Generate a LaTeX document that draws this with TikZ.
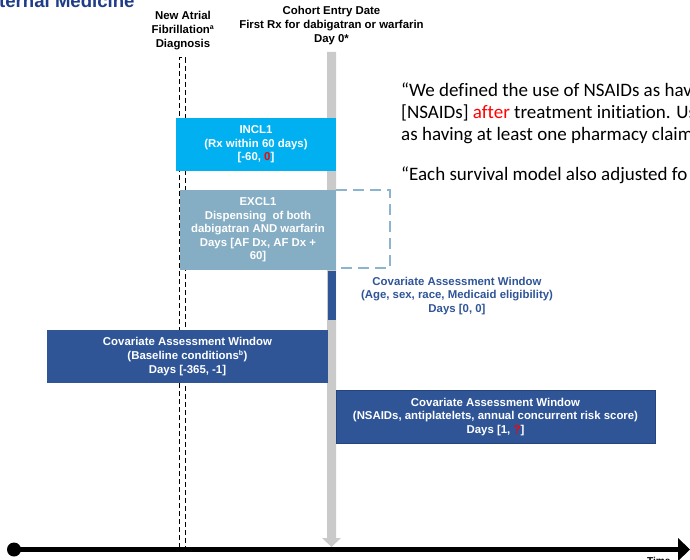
\documentclass[tikz,border=0pt]{standalone}
\usepackage{fontspec}
\setmainfont{Liberation Sans}
\newfontfamily\quotefont[Ligatures=NoCommon]{Carlito}
\usetikzlibrary{positioning}

\definecolor{titleblue}{HTML}{1F3C88}
\definecolor{inclcyan}{HTML}{00B0F0}
\definecolor{exclgray}{HTML}{85ADC4}
\definecolor{dashblue}{HTML}{8DB4CE}
\definecolor{covblue}{HTML}{2F5597}
\definecolor{covedge}{HTML}{24447D}
\definecolor{daybar}{HTML}{CACACA}

\tikzset{
  lbl/.style={font=\fontsize{11.4}{13.6}\selectfont\bfseries, align=center, inner sep=0pt},
  winbox/.style={lbl, text=white, inner sep=0pt, outer sep=0pt},
  quoteline/.style={font=\quotefont\fontsize{19}{22}\selectfont, anchor=base west, inner sep=0pt},
}

\begin{document}
\begin{tikzpicture}[x=1pt,y=-1pt]
\useasboundingbox (0,0) rectangle (690,559);
\clip (0,0) rectangle (690,559);

% journal banner, cut off at the top edge
\node[font=\fontsize{18.6}{22}\selectfont\bfseries, text=titleblue, anchor=base west, inner sep=0pt]
  (banner) at (-1,8) {ternal Medicine};

% column headings
\node[lbl] (afhead) at (183,30.5) {New Atrial\\Fibrillation\textsuperscript{\fontsize{7}{7}\selectfont a}\\Diagnosis};
\node[lbl] (cohorthead) at (331.5,25.5) {Cohort Entry Date\\First Rx for dabigatran or warfarin\\Day 0*};

% day-0 marker: grey block arrow down to the time line
\fill[daybar] (327,52) -- (336,52) -- (336,538) -- (341,538) -- (331.5,547)
  -- (322,538) -- (327,538) -- cycle;

% AF diagnosis marker: narrow dashed frame
\draw[black, line width=1pt, dash pattern=on 5pt off 3pt] (179,548) -- (179,58) -- (185,58) -- (185,548);

% inclusion / exclusion windows
\node[winbox, fill=inclcyan, minimum width=160pt, minimum height=53pt] (incl) at (256,144.5)
  {INCL1\\(Rx within 60 days)\\{[}-60, \textcolor{red}{0}]};
\node[winbox, fill=exclgray, minimum width=156pt, minimum height=80pt] (excl) at (258,230)
  {EXCL1\\Dispensing\ \ of both\\dabigatran AND warfarin\\Days [AF Dx, AF Dx +\\60]};
\draw[dashblue, line width=2.6pt, dash pattern=on 11pt off 6pt]
  (excl.north east) -- (390,190) -- (390,268) -- (excl.south east |- 0,268);

% covariate windows
\fill[covblue] (328,271) rectangle (336,320);
\node[lbl, text=covblue] (covday0) at (457,296)
  {Covariate Assessment Window\\(Age, sex, race, Medicaid eligibility)\\Days [0, 0]};
\node[winbox, fill=covblue, minimum width=281pt, minimum height=53pt] (covbase) at (187.5,356.5)
  {Covariate Assessment Window\\(Baseline conditions\textsuperscript{\fontsize{7}{7}\selectfont b})\\Days [-365, -1]};
\node[winbox, fill=covblue, draw=covedge, line width=0.8pt, minimum width=319pt, minimum height=53pt] (covfollow) at (495.5,417)
  {Covariate Assessment Window\\(NSAIDs, antiplatelets, annual concurrent risk score)\\Days [1, \textcolor{red}{?}]};

% quoted methods text
\node[quoteline] (q1) at (401,96.7) {“We defined the use of NSAIDs as hav};
\node[quoteline] (q2) at (401,118.4) {[NSAIDs] \textcolor{red}{after} treatment initiation. Us};
\node[quoteline] (q3) at (401,140) {as having at least one pharmacy claim};
\node[quoteline] (q4) at (401,180.5) {“Each survival model also adjusted fo};

% time line
\coordinate (tstart) at (14,549.5);
\coordinate (tend) at (678,549.5);
\draw[line width=5pt] (tstart) -- (tend);
\fill (tstart) circle (7pt);
\fill (678,538) -- (690,549.5) -- (678,561) -- cycle;
\node[font=\fontsize{10}{12}\selectfont\bfseries, anchor=north west, inner sep=0pt] (timelbl) at (647,557.5) {Time};
\end{tikzpicture}
\end{document}
